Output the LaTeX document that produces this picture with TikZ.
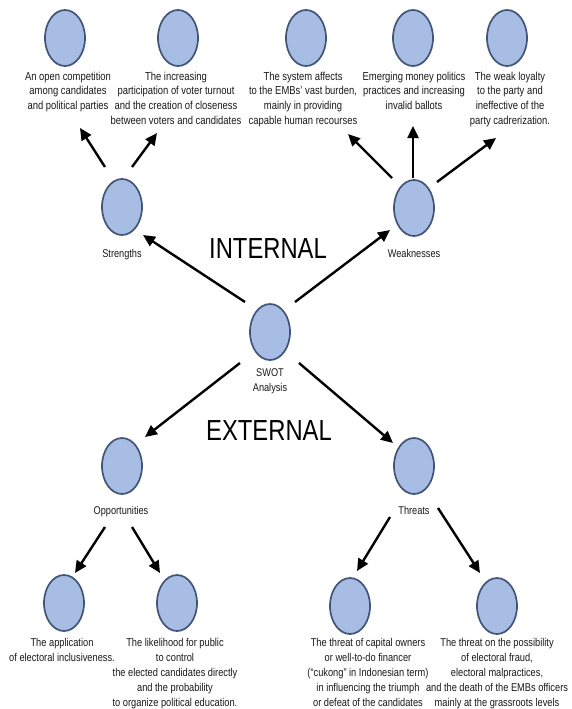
\documentclass[tikz,border=0pt]{standalone}
\usepackage{fontspec}
\setmainfont{Liberation Sans}[FakeStretch=0.82]
\usetikzlibrary{shapes.geometric,arrows.meta,calc}
\definecolor{efill}{RGB}{168,189,227}
\definecolor{edraw}{RGB}{66,84,120}
\definecolor{tcol}{RGB}{25,25,25}
\begin{document}
\begin{tikzpicture}[x=1pt,y=-1pt,
  bub/.style={ellipse,draw=edraw,fill=efill,line width=1.7pt,minimum width=40pt,minimum height=56pt,inner sep=0pt},
  txt/.style={align=center,anchor=north,inner sep=0pt,text=tcol,font=\fontsize{11.5}{14.7}\selectfont},
  btxt/.style={txt,font=\fontsize{11.3}{15}\selectfont},
  lbl/.style={inner sep=0pt,text=tcol,font=\fontsize{11.2}{15}\selectfont},
  big/.style={anchor=base,inner sep=0pt,text=black,font=\fontsize{29}{30}\selectfont},
  arr/.style={line width=2.4pt,-{Triangle[length=12pt,width=11pt]}}]
\fill[white] (0,0) rectangle (571,709);
\useasboundingbox (0,0) rectangle (571,709);

% top row
\node[bub] (t1) at (65,38) {};
\node[bub] (t2) at (178,38) {};
\node[bub] (t3) at (306,38) {};
\node[bub] (t4) at (413,38) {};
\node[bub] (t5) at (507,38) {};
\node[txt] (x1) at (68,71.5) {An open competition\\among candidates\\and political parties};
\node[txt] (x2) at (176,71.5) {The increasing\\participation of voter turnout\\and the creation of closeness\\between voters and candidates};
\node[txt] (x3) at (303,71.5) {The system affects\\to the EMBs' vast burden,\\mainly in providing\\capable human recourses};
\node[txt] (x4) at (414,71.5) {Emerging money politics\\practices and increasing\\invalid ballots};
\node[txt] (x5) at (510,71.5) {The weak loyalty\\to the party and\\ineffective of the\\party cadrerization.};

% middle
\node[bub] (S) at (122,207) {};
\node[bub] (W) at (414,208) {};
\node[bub] (A) at (270,332) {};
\node[bub] (O) at (122,466) {};
\node[bub] (T) at (414,466) {};
\node[lbl,anchor=base] (lS) at (122,257) {Strengths};
\node[lbl,anchor=base] (lW) at (414,257) {Weaknesses};
\node[lbl,align=center,anchor=north] (lA) at (270,368.5) {SWOT\\Analysis};
\node[lbl,anchor=base] (lO) at (121,514) {Opportunities};
\node[lbl,anchor=base] (lT) at (414,514) {Threats};
\node[big] (int) at (268,258.5) {INTERNAL};
\node[big] (ext) at (269,440) {EXTERNAL};

% bottom row
\node[bub] (b1) at (64,603) {};
\node[bub] (b2) at (177,603) {};
\node[bub] (b3) at (350,606) {};
\node[bub] (b4) at (497,606) {};
\node[btxt] (y1) at (62,638.5) {The application\\of electoral inclusiveness.};
\node[btxt] (y2) at (175,638.5) {The likelihood for public\\to control\\the elected candidates directly\\and the probability\\to organize political education.};
\node[btxt] (y3) at (368,638.5) {The threat of capital owners\\or well-to-do financer\\(``cukong'' in Indonesian term)\\in influencing the triumph\\or defeat of the candidates};
\node[btxt] (y4) at (497,638.5) {The threat on the possibility\\of electoral fraud,\\electoral malpractices,\\and the death of the EMBs officers\\mainly at the grassroots levels};

% arrow ends
\coordinate (e1) at (80,128);
\coordinate (e2) at (157,133);
\coordinate (e3) at (348,134);
\coordinate (e4) at (413,126);
\coordinate (e5) at (496,138);
\coordinate (e6) at (143,235);
\coordinate (e7) at (390,230);
\coordinate (e8) at (145,437);
\coordinate (e9) at (393,443);
\coordinate (e10) at (75,573);
\coordinate (e11) at (160,573);
\coordinate (e12) at (357,571);
\coordinate (e13) at (480,573);

\draw[arr] ($(S)+(-17,-40)$) -- (e1);
\draw[arr] ($(S)+(10,-40)$) -- (e2);
\draw[arr] ($(W)+(-22,-30)$) -- (e3);
\draw[arr] ($(W)+(-1,-30)$) -- (e4);
\draw[arr] ($(W)+(23,-26)$) -- (e5);
\draw[arr] ($(A)+(-25,-30)$) -- (e6);
\draw[arr] ($(A)+(25,-30)$) -- (e7);
\draw[arr] ($(A)+(-30,31)$) -- (e8);
\draw[arr] ($(A)+(29,31)$) -- (e9);
\draw[arr] ($(O)+(-17,61)$) -- (e10);
\draw[arr] ($(O)+(10,61)$) -- (e11);
\draw[arr] ($(T)+(-24,51)$) -- (e12);
\draw[arr] ($(T)+(24,42)$) -- (e13);
\end{tikzpicture}
\end{document}
